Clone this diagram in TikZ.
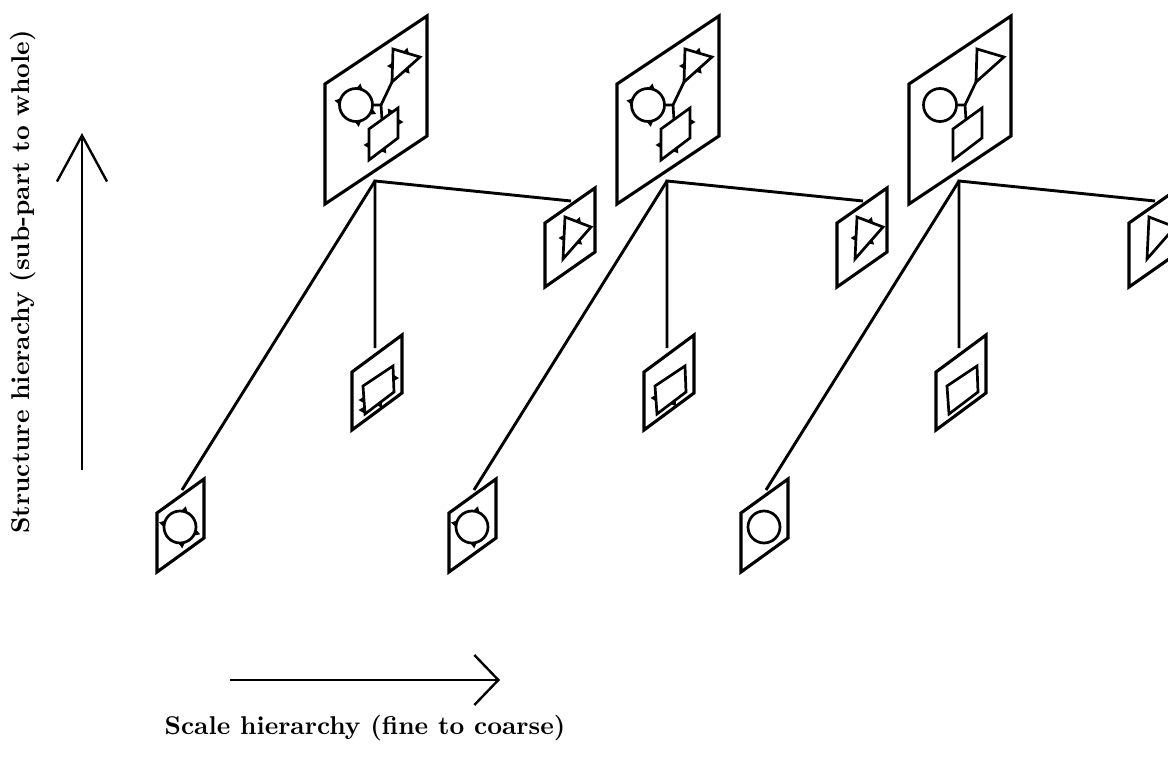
\documentclass[tikz,border=0pt]{standalone}
\usepackage{fontspec}
\newfontfamily\lblfont{lmroman10-bold.otf}
\usetikzlibrary{arrows.meta}
\tikzset{
  panel/.style={line width=3.1pt, line join=miter, fill=white},
  link/.style={line width=2.9pt, line join=miter},
  part/.style={line width=2.7pt, line join=miter},
  axis/.style={line width=2.4pt},
  lbl/.style={font=\fontsize{25.7}{30}\selectfont\lblfont, inner sep=0pt},
}
% panel: left x, left-top y, width, height, slant
\newcommand\pnl[5]{\draw[panel] (#1,#2) -- ({#1+#3},{#2-#5}) -- ({#1+#3},{#2-#5+#4}) -- (#1,{#2+#4}) -- cycle;}
% tick on a circle: cx, cy, r, angle
\newcommand\ctk[4]{\fill[shift={(#1,#2)}, rotate=#4] (#3,-3.2) -- ({#3+5.5},0) -- (#3,3.2) -- cycle;}
% tick on an edge: x, y, angle
\newcommand\etk[3]{\fill[shift={(#1,#2)}, rotate=#3] (0,-3.2) -- (5.5,0) -- (0,3.2) -- cycle;}
\begin{document}
\begin{tikzpicture}[x=1pt,y=-1pt]
\useasboundingbox (0,0) rectangle (1168,757);
\clip (0,0) rectangle (1168,757);
\foreach \k in {0,1,2} {
 \begin{scope}[xshift=\k*292pt]
  % connectors
  \coordinate (v\k) at (375,181);
  \coordinate (r\k) at (571,201);
  \coordinate (m\k) at (375,348);
  \coordinate (b\k) at (182,490);
  \draw[link] (r\k) -- (v\k) -- (m\k);
  \draw[link] (v\k) -- (b\k);
  % top panel
  \pnl{325}{84}{102}{120}{68}
  \node[circle, draw, part, minimum size=33pt, inner sep=0pt] (tc\k) at (356,105) {};
  \draw[part] (393,49) -- (420,57) -- (392,82) -- cycle;
  \draw[part] (369,129) -- (398,108) -- (398,138) -- (369,160) -- cycle;
  \draw[part] (372.5,105) -- (381,105) -- (392,82);
  \draw[part] (381,105) -- (382,120);
  % right panel
  \pnl{545}{223}{50}{64}{35}
  \draw[part] (565,217) -- (591,227) -- (563,259) -- cycle;
  % middle panel
  \pnl{352}{372}{50}{58}{37}
  \draw[part] (363,386) -- (393,366) -- (394,392) -- (365,414) -- cycle;
  % bottom panel
  \pnl{157}{513}{47}{59}{34}
  \node[circle, draw, part, minimum size=32pt, inner sep=0pt] (bc\k) at (180,527) {};
  % ticks
  \ifnum\k<2
    \ctk{356}{105}{16.5}{78}\ctk{356}{105}{16.5}{168}\ctk{356}{105}{16.5}{277}
    \etk{406}{53}{75}\etk{392.5}{66}{180}\etk{406}{69.5}{312}
    \etk{398}{122}{0}\etk{369}{145}{180}\etk{383}{149}{307}
    \etk{578}{222.2}{70}\etk{564}{238}{180}\etk{578}{241}{319}
    \ctk{180}{527}{16}{74}\ctk{180}{527}{16}{168}\ctk{180}{527}{16}{276}
  \fi
  \ifnum\k=0
    \ctk{356}{105}{16.5}{336}
    \etk{391}{113}{125}
    \ctk{180}{527}{16}{340}
    \etk{364}{400}{180}\etk{379}{403.4}{307}\etk{393.5}{378}{0}\etk{364}{410}{180}
  \fi
  \ifnum\k=1
    \etk{364}{398}{180}\etk{381}{402}{307}
  \fi
 \end{scope}
}
% axes
\coordinate (ya) at (82,470);
\coordinate (yb) at (82,133);
\draw[axis, -{Straight Barb[length=46pt, width=50pt, line width=2.4pt]}] (ya) -- (yb);
\coordinate (xa) at (230,680);
\coordinate (xb) at (500,680);
\draw[axis, -{Straight Barb[length=24pt, width=50pt, line width=2.4pt]}] (xa) -- (xb);
\node[lbl, rotate=90] (ylab) at (23,282) {Structure hierachy (sub-part to whole)};
\node[lbl] (xlab) at (365,728) {Scale hierarchy (fine to coarse)};
\end{tikzpicture}
\end{document}
